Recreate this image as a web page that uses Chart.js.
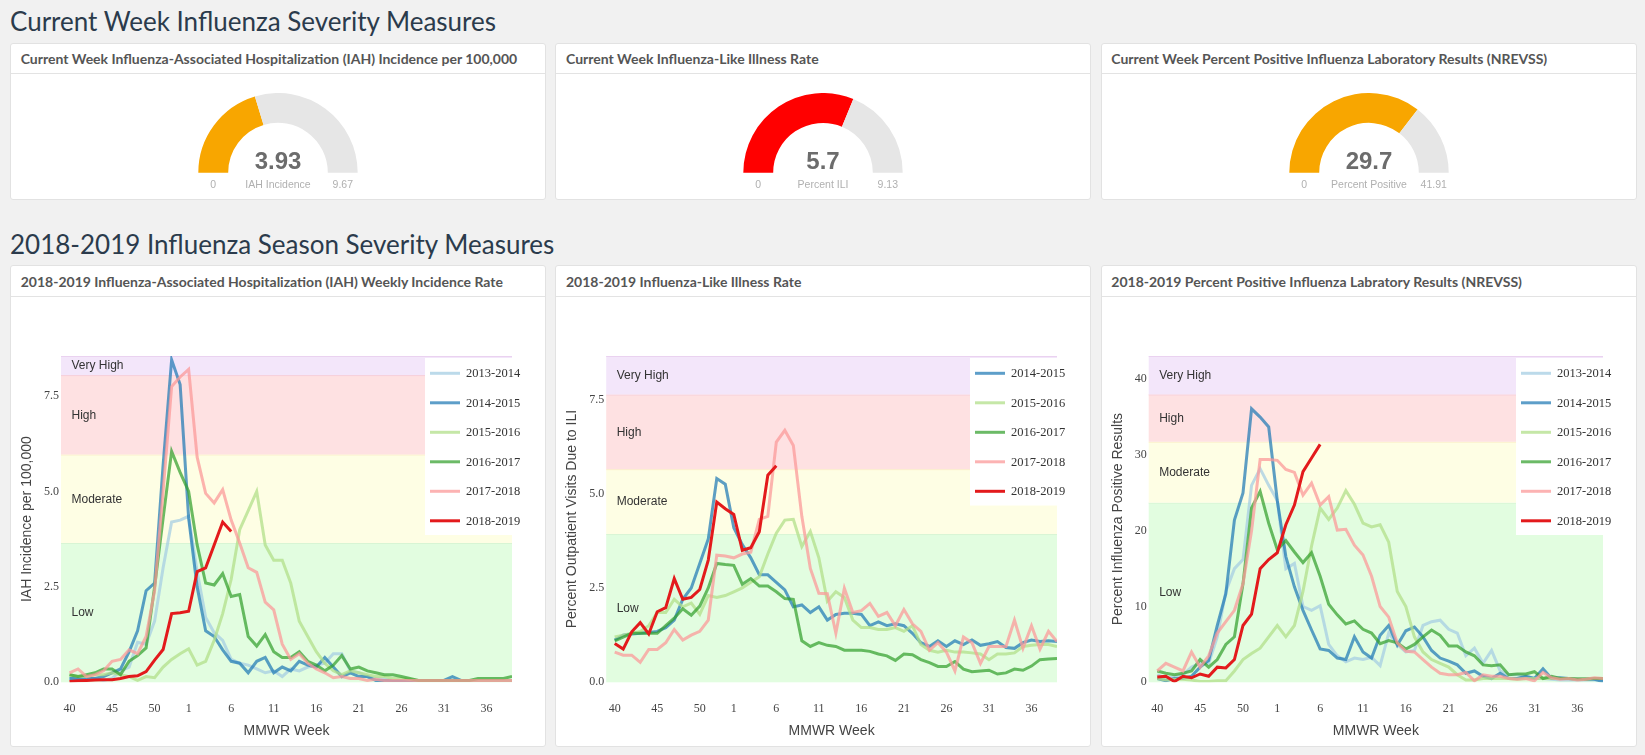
<!DOCTYPE html>
<html>
<head>
<meta charset="utf-8">
<title>Influenza Severity Measures</title>
<script src="https://cdn.jsdelivr.net/npm/chart.js@4.4.1/dist/chart.umd.min.js"></script>
<style>
  html, body { margin: 0; padding: 0; }
  body { width: 1645px; height: 755px; background: #f1f1f1; position: relative; overflow: hidden; font-family: Lato, "Open Sans", sans-serif; }
  .section-title { position: absolute; left: 10px; font-size: 26px; line-height: 31.2px; color: #2b3b4c; white-space: nowrap; }
  .panel { position: absolute; box-sizing: border-box; width: 536px; background: #fff; border: 1px solid #e2e2e2; border-radius: 3px; }
  .panel-head { box-sizing: border-box; height: 30.6px; padding: 7.5px 0 0 9.7px; font-size: 14px; line-height: 16.8px; font-weight: bold; color: #555; border-bottom: 1px solid #e3e3e3; white-space: nowrap; }
  .top { top: 42.7px; height: 157.3px; }
  .bottom { top: 265px; height: 482px; }
  canvas { position: absolute; }
</style>
</head>
<body>

<div class="section-title" style="top:6.2px">Current Week Influenza Severity Measures</div>
<div class="panel top" style="left:10px"><div class="panel-head">Current Week Influenza-Associated Hospitalization (IAH) Incidence per 100,000</div></div>
<div class="panel top" style="left:555.3px"><div class="panel-head">Current Week Influenza-Like Illness Rate</div></div>
<div class="panel top" style="left:1100.6px"><div class="panel-head">Current Week Percent Positive Influenza Laboratory Results (NREVSS)</div></div>

<div class="section-title" style="top:228.6px">2018-2019 Influenza Season Severity Measures</div>
<div class="panel bottom" style="left:10px"><div class="panel-head">2018-2019 Influenza-Associated Hospitalization (IAH) Weekly Incidence Rate</div></div>
<div class="panel bottom" style="left:555.3px"><div class="panel-head">2018-2019 Influenza-Like Illness Rate</div></div>
<div class="panel bottom" style="left:1100.6px"><div class="panel-head">2018-2019 Percent Positive Influenza Labratory Results (NREVSS)</div></div>

<canvas id="gaugeIah" width="200" height="110" style="left:177.8px;top:93px"></canvas>
<canvas id="gaugeIli" width="200" height="110" style="left:723.1px;top:93px"></canvas>
<canvas id="gaugePos" width="200" height="110" style="left:1268.6px;top:93px"></canvas>

<canvas id="trendIah" width="534" height="449" style="left:11px;top:297px"></canvas>
<canvas id="trendIli" width="534" height="449" style="left:556.3px;top:297px"></canvas>
<canvas id="trendPos" width="534" height="449" style="left:1101.6px;top:297px"></canvas>

<script>
// ---- gauge values (current week) ----
const gaugeValues = [3.93, 5.7, 29.7];
const gaugeMax = [9.67, 9.13, 41.91];
const gaugeNames = ['IAH Incidence', 'Percent ILI', 'Percent Positive'];

// ---- MMWR weeks of a season (53-week season) ----
const weeks = [40, 41, 42, 43, 44, 45, 46, 47, 48, 49, 50, 51, 52, 53,
  1, 2, 3, 4, 5, 6, 7, 8, 9, 10, 11, 12, 13, 14, 15, 16, 17, 18, 19, 20,
  21, 22, 23, 24, 25, 26, 27, 28, 29, 30, 31, 32, 33, 34, 35, 36, 37, 38, 39];
const tickWeeks = [40, 45, 50, 1, 6, 11, 16, 21, 26, 31, 36];

const seasons = ['2013-2014', '2014-2015', '2015-2016', '2016-2017', '2017-2018', '2018-2019'];

// severity bands, bottom to top
const bandNames = ['Low', 'Moderate', 'High', 'Very High'];

// ---- IAH incidence per 100,000 ----
const iah2013 = [0.1, 0.1, 0.1, 0.1, 0.05, 0.1, 0.3, 0.4, 1.05, 1.0,
  1.6, 3.0, 4.2, 4.25, 4.35, 2.9, 1.7, 1.3, 1.1, 0.6,
  0.5, 0.45, 0.35, 0.25, 0.3, 0.15, 0.35, 0.3, 0.4, 0.45,
  0.5, 0.75, 0.75, 0.3, 0.25, 0.15, 0.1, 0.08, 0.05, 0.05,
  0.05, 0.05, 0.05, 0.05, 0.05, 0.05, 0.05, 0.05, 0.05, 0.05, 0.05, 0.05, 0.05];
const iah2014 = [0.1, 0.1, 0.1, 0.1, 0.15, 0.25, 0.35, 0.8, 1.35, 2.4,
  2.6, 5.7, 8.45, 7.8, 4.3, 2.5, 1.35, 1.2, 0.85, 0.55,
  0.5, 0.25, 0.55, 0.65, 0.25, 0.4, 0.3, 0.55, 0.45, 0.4,
  0.65, 0.4, 0.15, 0.25, 0.15, 0.15, 0.05, 0.05, 0.05, 0.05,
  0.05, 0.05, 0.05, 0.05, 0.05, 0.15, 0.05, 0.05, 0.05, 0.05, 0.05, 0.05, 0.05];
const iah2015 = [0.2, 0.15, 0.15, 0.2, 0.2, 0.25, 0.2, 0.15, 0.05, 0.15,
  0.12, 0.4, 0.6, 0.75, 0.88, 0.45, 0.55, 1.1, 1.8, 2.7,
  4.0, 4.5, 5.0, 3.6, 3.2, 3.2, 2.6, 1.6, 1.2, 0.8,
  0.5, 0.3, 0.2, 0.3, 0.25, 0.2, 0.15, 0.15, 0.1, 0.1,
  0.08, 0.05, 0.05, 0.05, 0.05, 0.05, 0.05, 0.05, 0.05, 0.05, 0.05, 0.05, 0.05];
const iah2016 = [0.2, 0.15, 0.2, 0.25, 0.35, 0.35, 0.2, 0.55, 0.7, 0.9,
  2.5, 4.3, 6.05, 5.5, 5.0, 3.6, 2.6, 2.55, 2.85, 2.25,
  2.3, 1.2, 0.95, 1.25, 0.8, 0.65, 0.65, 0.8, 0.55, 0.45,
  0.3, 0.45, 0.7, 0.35, 0.4, 0.3, 0.25, 0.2, 0.2, 0.15,
  0.1, 0.05, 0.05, 0.05, 0.05, 0.05, 0.05, 0.05, 0.1, 0.1, 0.1, 0.1, 0.15];
const iah2017 = [0.25, 0.35, 0.15, 0.2, 0.3, 0.55, 0.6, 0.85, 0.75, 1.2,
  2.4, 5.0, 7.75, 8.0, 8.2, 5.9, 4.95, 4.7, 5.05, 4.25,
  3.65, 3.0, 2.88, 2.1, 1.9, 1.0, 0.6, 0.75, 0.5, 0.35,
  0.25, 0.12, 0.15, 0.1, 0.1, 0.05, 0.08, 0.05, 0.05, 0.05,
  0.05, 0.05, 0.05, 0.05, 0.05, 0.05, 0.05, 0.05, 0.05, 0.05, 0.05, 0.05, 0.05];
const iah2018 = [0.02, 0.04, 0.05, 0.06, 0.07, 0.07, 0.1, 0.15, 0.17, 0.28,
  0.58, 0.86, 1.8, 1.82, 1.86, 2.9, 3.0, 3.6, 4.2, 3.95];
const iahBands = [0, 3.65, 5.97, 8.05, 8.55];
const iahTicks = [0, 2.5, 5, 7.5];
const iahTickLabels = ['0.0', '2.5', '5.0', '7.5'];

// ---- ILI: percent of outpatient visits ----
const ili2014 = [1.12, 1.25, 1.28, 1.3, 1.32, 1.35, 1.45, 1.65, 2.2, 2.5,
  3.15, 3.8, 5.4, 5.25, 4.1, 3.65, 3.3, 2.85, 2.85, 2.65,
  2.45, 2.0, 2.05, 1.85, 2.0, 1.65, 1.8, 1.83, 1.83, 1.8,
  1.5, 1.6, 1.5, 1.55, 1.5, 1.3, 1.05, 0.95, 1.1, 0.95,
  1.1, 1.0, 1.12, 0.98, 1.02, 1.08, 0.92, 0.9, 1.05, 1.12, 1.08, 1.1, 1.08];
const ili2015 = [1.2, 1.25, 1.3, 1.35, 1.5, 1.85, 1.85, 2.2, 2.0, 2.1,
  1.8, 2.3, 2.25, 2.3, 2.4, 2.5, 2.65, 2.8, 3.4, 3.95,
  4.3, 4.32, 3.6, 4.0, 3.3, 2.15, 2.4, 2.25, 1.65, 1.45,
  1.45, 1.4, 1.4, 1.45, 1.35, 1.5, 1.0, 0.85, 0.8, 0.85,
  0.8, 0.8, 0.78, 0.75, 0.6, 0.75, 0.75, 0.78, 0.95, 0.98, 1.0, 1.0, 0.95];
const ili2016 = [1.1, 1.2, 1.3, 1.3, 1.3, 1.3, 1.5, 1.7, 1.95, 1.78,
  2.02, 2.5, 3.15, 3.12, 3.1, 2.6, 2.75, 2.55, 2.55, 2.4,
  2.22, 2.2, 1.1, 0.95, 1.05, 0.98, 0.95, 0.85, 0.85, 0.85,
  0.82, 0.75, 0.7, 0.58, 0.75, 0.73, 0.6, 0.52, 0.42, 0.42,
  0.55, 0.35, 0.28, 0.3, 0.32, 0.22, 0.25, 0.35, 0.32, 0.43, 0.6, 0.62, 0.63];
const ili2017 = [0.8, 0.72, 0.72, 0.53, 0.87, 0.87, 1.05, 1.4, 1.12, 1.25,
  1.35, 1.65, 3.37, 3.35, 3.3, 3.4, 3.45, 4.32, 4.4, 6.37,
  6.68, 6.28, 4.4, 3.02, 2.36, 2.35, 1.3, 2.49, 1.85, 1.9,
  2.09, 1.75, 1.85, 1.5, 1.93, 1.55, 1.35, 0.85, 1.05, 0.8,
  0.3, 1.2, 1.05, 0.5, 0.95, 0.95, 0.95, 1.65, 0.9, 1.5, 0.88, 1.35, 1.08];
const ili2018 = [1.03, 0.88, 1.34, 1.58, 1.28, 1.87, 1.98, 2.75, 2.2, 2.25,
  2.46, 3.24, 4.78, 4.6, 4.45, 3.5, 3.57, 3.99, 5.49, 5.74];
const iliBands = [0, 3.93, 5.65, 7.63, 8.65];
const iliTicks = [0, 2.5, 5, 7.5];
const iliTickLabels = ['0.0', '2.5', '5.0', '7.5'];

// ---- NREVSS percent positive ----
const pos2013 = [1.0, 0.5, 0.7, 1.0, 2.0, 2.5, 2.5, 6.0, 12.0, 15.0,
  16.2, 26.0, 28.2, 26.0, 24.0, 15.0, 15.7, 10.0, 9.5, 10.1,
  5.0, 3.5, 2.7, 3.2, 3.0, 3.3, 2.2, 6.5, 5.0, 4.0,
  4.2, 7.5, 8.0, 8.2, 7.0, 6.5, 3.5, 4.5, 2.5, 4.2,
  1.5, 1.0, 1.0, 0.8, 0.5, 0.5, 0.4, 0.3, 0.3, 0.3, 0.3, 0.3, 0.3];
const pos2014 = [0.5, 0.2, 0.5, 0.5, 0.8, 2.0, 2.9, 7.5, 11.7, 21.4,
  25.0, 36.1, 35.0, 33.7, 24.0, 16.6, 12.6, 9.5, 6.9, 4.4,
  4.2, 3.2, 3.0, 6.0, 4.0, 3.2, 6.2, 7.5, 4.9, 6.8,
  7.3, 6.0, 4.2, 3.2, 2.8, 2.3, 1.2, 1.5, 0.8, 0.5,
  1.2, 0.5, 0.5, 0.8, 0.5, 1.8, 0.5, 0.6, 0.5, 0.5, 0.5, 0.4, 0.1];
const pos2015 = [0.5, 0.3, 0.4, 0.4, 0.3, 0.1, 0.1, 0.2, 0.2, 1.5,
  3.0, 3.8, 4.5, 6.0, 7.5, 6.0, 7.5, 12.0, 18.0, 23.0,
  21.5, 23.0, 25.3, 23.5, 21.0, 20.5, 20.8, 18.5, 12.0, 10.0,
  6.0, 4.0, 3.0, 2.5, 2.0, 1.0, 0.3, 0.3, 0.5, 0.5,
  0.5, 0.5, 0.4, 0.5, 0.5, 0.5, 0.5, 0.5, 0.5, 0.5, 0.5, 0.5, 0.5];
const pos2016 = [1.5, 1.2, 1.0, 1.2, 1.5, 3.0, 2.0, 3.0, 5.0, 6.0,
  13.0, 23.0, 25.2, 21.0, 17.5, 18.7, 17.2, 15.8, 17.1, 14.0,
  10.3, 8.9, 7.7, 8.1, 7.0, 6.5, 5.1, 5.5, 5.2, 4.4,
  5.0, 6.0, 6.9, 6.2, 4.8, 4.8, 4.0, 3.5, 2.3, 2.2,
  2.3, 1.0, 1.1, 1.1, 1.4, 0.5, 0.8, 0.5, 0.5, 0.4, 0.4, 0.5, 0.5];
const pos2017 = [1.5, 2.5, 2.0, 1.5, 4.0, 2.0, 3.5, 6.5, 8.0, 9.5,
  13.0, 20.0, 29.4, 29.4, 29.3, 28.1, 27.7, 24.7, 26.3, 23.4,
  24.5, 20.1, 20.2, 18.1, 16.8, 14.0, 10.0, 8.6, 5.2, 4.1,
  4.0, 3.0, 2.0, 1.2, 1.0, 1.0, 1.3, 0.2, 1.0, 0.8,
  0.8, 0.5, 0.4, 0.5, 0.2, 1.3, 0.6, 0.4, 0.5, 0.3, 0.4, 0.6, 0.5];
const pos2018 = [0.7, 0.8, 0.1, 0.8, 0.6, 1.1, 0.8, 2.0, 1.9, 3.0,
  7.5, 9.0, 15.0, 16.2, 17.1, 20.8, 23.4, 27.8, 29.6, 31.4];
const posBands = [0, 23.71, 31.76, 38.0, 43.07];
const posTicks = [0, 10, 20, 30, 40];
const posTickLabels = ['0', '10', '20', '30', '40'];

// ---- styles ----
const seasonColors = {
  '2013-2014': 'rgba(166, 206, 227, 0.75)',
  '2014-2015': 'rgba(31, 120, 180, 0.72)',
  '2015-2016': 'rgba(178, 223, 138, 0.75)',
  '2016-2017': 'rgba(51, 160, 44, 0.72)',
  '2017-2018': 'rgba(251, 154, 153, 0.75)',
  '2018-2019': 'rgba(227, 26, 28, 1)'
};
const bandFills = ['#e2fde0', '#fefee4', '#fee1e2', '#f3e6fa'];
const bandEdges = ['#d8f5d4', '#fbefc9', '#f7cfd8', '#ead2f0'];
const serif = '"Liberation Serif", "Times New Roman", serif';
const sans = '"Liberation Sans", Arial, sans-serif';

// Draws the coloured severity bands behind the season lines
const bandPlugin = {
  id: 'bands',
  beforeDatasetsDraw(chart, args, opts) {
    const { ctx, chartArea: a, scales: { y } } = chart;
    ctx.save();
    const spots = [];
    for (let k = 0; k < bandNames.length; k++) {
      const top = y.getPixelForValue(opts.edges[k + 1]);
      const bot = y.getPixelForValue(opts.edges[k]);
      ctx.fillStyle = bandFills[k];
      ctx.fillRect(a.left, top, a.right - a.left, bot - top);
      ctx.fillStyle = bandEdges[k];
      ctx.fillRect(a.left, top, a.right - a.left, 1);
      spots.push((top + bot) / 2);
    }
    ctx.font = '12px ' + sans;
    ctx.fillStyle = '#333';
    ctx.textBaseline = 'middle';
    bandNames.forEach((name, k) => ctx.fillText(name, a.left + 10.5, spots[k] + 0.5));
    ctx.restore();
  }
};

// Plotly-style legend sitting inside the top right corner of the plot
const boxLegend = {
  id: 'boxLegend',
  afterDraw(chart) {
    const { ctx, chartArea: a } = chart;
    const sets = chart.data.datasets;
    const x0 = a.right - 87, y0 = a.top + 2, rowH = 29.5;
    ctx.save();
    ctx.fillStyle = '#fff';
    ctx.fillRect(x0, y0, 110, sets.length * rowH);
    ctx.font = '12.5px ' + serif;
    ctx.textBaseline = 'middle';
    sets.forEach((ds, i) => {
      const cy = y0 + 15.3 + i * rowH;
      ctx.strokeStyle = ds.borderColor;
      ctx.lineWidth = 3;
      ctx.beginPath();
      ctx.moveTo(x0 + 5, cy);
      ctx.lineTo(x0 + 35, cy);
      ctx.stroke();
      ctx.fillStyle = '#333';
      ctx.fillText(ds.label, x0 + 41, cy + 0.5);
    });
    ctx.restore();
  }
};

// Centre value and min / label / max under a half-doughnut gauge
const gaugeText = {
  id: 'gaugeText',
  afterDraw(chart, args, o) {
    const { ctx } = chart;
    const arc = chart.getDatasetMeta(0).data[0];
    const mid = (arc.innerRadius + arc.outerRadius) / 2;
    ctx.save();
    ctx.textAlign = 'center';
    ctx.textBaseline = 'alphabetic';
    ctx.fillStyle = '#6c6c6c';
    ctx.font = 'bold 24px ' + sans;
    ctx.fillText(o.value, arc.x, arc.y - 3.3);
    ctx.fillStyle = '#b0b0b0';
    ctx.font = '10.5px ' + sans;
    ctx.fillText(o.min, arc.x - mid, arc.y + 15.6);
    ctx.fillText(o.label, arc.x, arc.y + 15.6);
    ctx.fillText(o.max, arc.x + mid, arc.y + 15.6);
    ctx.restore();
  }
};

const makeGauge = (id, k, color) => {
  new Chart(document.getElementById(id), {
    type: 'doughnut',
    data: {
      datasets: [{
        data: [gaugeValues[k], gaugeMax[k] - gaugeValues[k]],
        backgroundColor: [color, '#e6e6e6'],
        borderWidth: 0
      }]
    },
    options: {
      responsive: false,
      animation: false,
      events: [],
      rotation: -90,
      circumference: 180,
      cutout: '62.5%',
      layout: { padding: { left: 20.3, right: 20.3, top: 0, bottom: 30.3 } },
      plugins: {
        legend: { display: false },
        tooltip: { enabled: false },
        gaugeText: { value: String(gaugeValues[k]), min: '0', max: String(gaugeMax[k]), label: gaugeNames[k] }
      }
    },
    plugins: [gaugeText]
  });
};

const makeTrend = (id, series, edges, yTicks, yTickLabels, yTitle, leftW) => {
  const datasets = series.map((s, k) => ({
    label: s.season,
    data: s.values.map((v, i) => ({ x: i, y: v })),
    borderColor: seasonColors[s.season],
    borderWidth: 3,
    pointRadius: 0,
    tension: 0,
    fill: false,
    order: series.length - k
  }));
  new Chart(document.getElementById(id), {
    type: 'line',
    data: { datasets },
    options: {
      responsive: false,
      animation: false,
      events: [],
      layout: { padding: { left: 0, right: 33, top: 59, bottom: 0 } },
      scales: {
        x: {
          type: 'linear',
          min: -1,
          max: weeks.length - 1,
          afterBuildTicks: s => { s.ticks = tickWeeks.map(w => ({ value: weeks.indexOf(w) })); },
          ticks: {
            callback: v => String(weeks[v]),
            autoSkip: false,
            maxRotation: 0,
            padding: 19.5,
            color: '#444',
            font: { family: serif, size: 12 }
          },
          grid: { display: false, drawTicks: false },
          border: { display: false },
          title: { display: true, text: 'MMWR Week', color: '#444', font: { family: sans, size: 14 }, padding: { top: 0, bottom: 6.6 } },
          afterFit: s => { s.height = 63.7; }
        },
        y: {
          min: 0,
          max: edges[edges.length - 1],
          afterBuildTicks: s => { s.ticks = yTicks.map(v => ({ value: v })); },
          ticks: {
            callback: (v, i) => yTickLabels[i],
            padding: 2,
            color: '#444',
            font: { family: serif, size: 12 }
          },
          grid: { display: false, drawTicks: false },
          border: { display: false },
          title: { display: true, text: yTitle, color: '#444', font: { family: sans, size: 14 }, padding: { top: 7.4, bottom: 0 } },
          afterFit: s => { s.width = leftW; }
        }
      },
      plugins: {
        legend: { display: false },
        tooltip: { enabled: false },
        bands: { edges }
      }
    },
    plugins: [bandPlugin, boxLegend]
  });
};

document.addEventListener('DOMContentLoaded', () => {
  makeGauge('gaugeIah', 0, '#f8a600');
  makeGauge('gaugeIli', 1, '#ff0000');
  makeGauge('gaugePos', 2, '#f8a600');

  makeTrend('trendIah', [
    { season: seasons[0], values: iah2013 },
    { season: seasons[1], values: iah2014 },
    { season: seasons[2], values: iah2015 },
    { season: seasons[3], values: iah2016 },
    { season: seasons[4], values: iah2017 },
    { season: seasons[5], values: iah2018 }
  ], iahBands, iahTicks, iahTickLabels, 'IAH Incidence per 100,000', 50);

  makeTrend('trendIli', [
    { season: seasons[1], values: ili2014 },
    { season: seasons[2], values: ili2015 },
    { season: seasons[3], values: ili2016 },
    { season: seasons[4], values: ili2017 },
    { season: seasons[5], values: ili2018 }
  ], iliBands, iliTicks, iliTickLabels, 'Percent Outpatient Visits Due to ILI', 50.2);

  makeTrend('trendPos', [
    { season: seasons[0], values: pos2013 },
    { season: seasons[1], values: pos2014 },
    { season: seasons[2], values: pos2015 },
    { season: seasons[3], values: pos2016 },
    { season: seasons[4], values: pos2017 },
    { season: seasons[5], values: pos2018 }
  ], posBands, posTicks, posTickLabels, 'Percent Influenza Positive Results', 46.7);
});
</script>
</body>
</html>
